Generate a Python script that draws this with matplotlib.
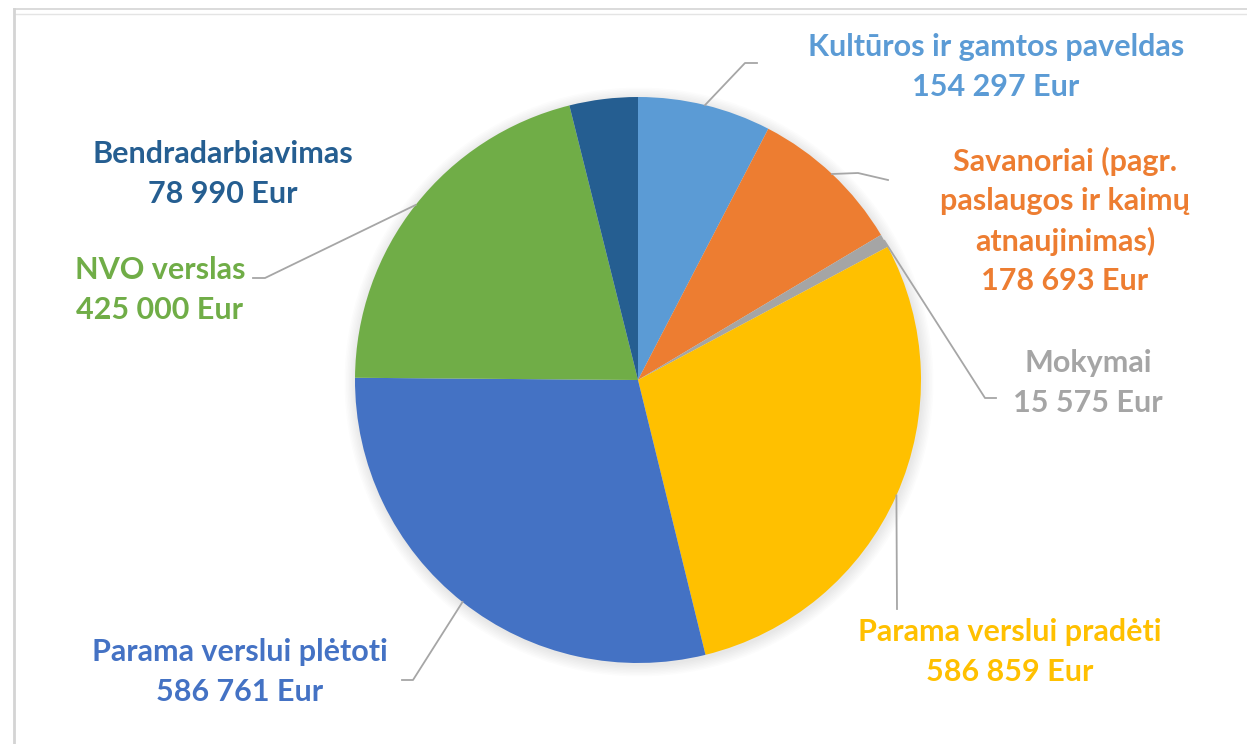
import matplotlib
matplotlib.use("Agg")
import matplotlib.pyplot as plt
import numpy as np

labels = ["Kultūros ir gamtos paveldas", "Savanoriai (pagr.\npaslaugos ir kaimų\natnaujinimas)",
          "Mokymai", "Parama verslui pradėti", "Parama verslui plėtoti",
          "NVO verslas", "Bendradarbiavimas"]
values = [154297, 178693, 15575, 586859, 586761, 425000, 78990]
colors = ["#5B9BD5", "#ED7D31", "#A5A5A5", "#FFC000", "#4472C4", "#70AD47", "#255E91"]

W, H = 1247, 744
# label text centres (image pixels, y from top) and leader elbow/end points
label_pos = [(996, 67), (1065, 221), (1088, 383), (1010, 652), (240, 672), (160, 290), (223, 174)]
leader_pts = [[(745, 63), (757, 63)],
              [(858, 173), (888, 180)],
              [(985, 398), (996, 398)],
              [(897, 609)],
              [(413, 680), (402, 680)],
              [(265, 278), (253, 278)],
              None]

def fmt(v):
    return "{:,}".format(v).replace(",", " ") + " Eur"

fig = plt.figure(figsize=(W / 100, H / 100), dpi=100)
ax = fig.add_axes([0, 0, 1, 1])

cx, cy, r = 638, H - 380, 283

# soft shadow behind the pie
for k in range(8):
    ax.add_patch(plt.Circle((cx + 1, cy - 2), r + 1 + k * 1.5, color="k", alpha=0.012, lw=0, zorder=0))

wedges, _ = ax.pie(values, colors=colors, startangle=90, counterclock=False,
                   center=(cx, cy), radius=r, frame=True,
                   wedgeprops=dict(linewidth=0))
ax.set_xlim(0, W)
ax.set_ylim(0, H)
ax.set_aspect("equal")
ax.axis("off")

for w, lab, v, c, pos, pts in zip(wedges, labels, values, colors, label_pos, leader_pts):
    ax.text(pos[0], H - pos[1], lab + "\n" + fmt(v), color=c, ha="center", va="center",
            fontsize=22, fontweight="bold", family=["Lato", "DejaVu Sans"], linespacing=1.48)
    if pts is None:
        continue
    ang = np.deg2rad((w.theta1 + w.theta2) / 2)
    xs = [cx + r * np.cos(ang)] + [p[0] for p in pts]
    ys = [cy + r * np.sin(ang)] + [H - p[1] for p in pts]
    ax.plot(xs, ys, color="#A6A6A6", lw=1.3, zorder=3)

# sheet frame lines at top and left
ax.plot([14, W], [H - 8.5, H - 8.5], color="#D4D4D4", lw=1.2)
ax.plot([14, W], [H - 14, H - 14], color="#E4E4E4", lw=1.0)
ax.plot([14, 14], [0, H - 8.5], color="#D4D4D4", lw=2)

fig.savefig("out.png", dpi=100, facecolor="white")
